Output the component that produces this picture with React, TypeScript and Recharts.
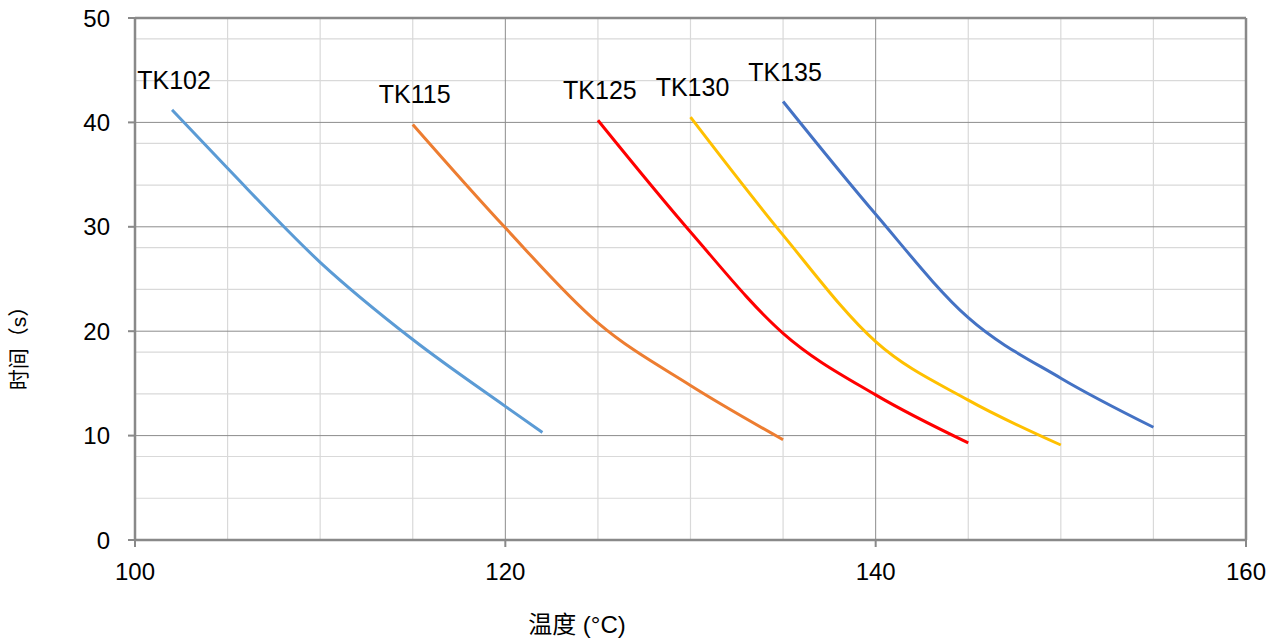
import { LineChart, Line, XAxis, YAxis, CartesianGrid, ReferenceLine, Label } from "recharts";

const tk102Temp = [102, 105, 110, 115, 120, 122];
const tk102Time = [41.2, 35.6, 26.6, 19.2, 12.8, 10.3];
const tk115Temp = [115, 120, 125, 130, 135];
const tk115Time = [39.8, 29.9, 20.8, 14.8, 9.6];
const tk125Temp = [125, 130, 135, 140, 145];
const tk125Time = [40.2, 29.5, 19.8, 13.9, 9.3];
const tk130Temp = [130, 135, 140, 145, 150];
const tk130Time = [40.5, 29.2, 19.0, 13.4, 9.1];
const tk135Temp = [135, 140, 145, 150, 155];
const tk135Time = [42.0, 31.2, 21.3, 15.5, 10.8];

const xTicks = [100, 120, 140, 160];
const yTicks = [0, 10, 20, 30, 40, 50];
const xMinor = [105, 110, 115, 125, 130, 135, 145, 150, 155];
const yMinor = [2, 4, 6, 8, 12, 14, 16, 18, 22, 24, 26, 28, 32, 34, 36, 38, 42, 44, 46, 48];
const xMajor = [120, 140];
const yMajor = [10, 20, 30, 40];

const FONT = "'Liberation Sans', Arial, 'Noto Sans CJK SC', sans-serif";
const AXIS = "#898989";

const build = (temps: number[], times: number[]) => temps.map((t, i) => ({ t, v: times[i] }));

const series = [
  { name: "TK102", color: "#5B9BD5", data: build(tk102Temp, tk102Time) },
  { name: "TK115", color: "#ED7D31", data: build(tk115Temp, tk115Time) },
  { name: "TK125", color: "#FF0000", data: build(tk125Temp, tk125Time) },
  { name: "TK130", color: "#FFC000", data: build(tk130Temp, tk130Time) },
  { name: "TK135", color: "#4472C4", data: build(tk135Temp, tk135Time) },
];

// name tag above the first point of each curve
const seriesLabel = (name: string) => (props: any) => {
  if (props.index !== 0) return <g />;
  return (
    <text x={props.x + 2} y={props.y - 21} textAnchor="middle" fontSize={25} fill="#000" fontFamily={FONT}>
      {name}
    </text>
  );
};

export default function App() {
  return (
    <div style={{ width: 1282, height: 644, background: "#fff" }}>
      <style>{"body{margin:0}"}</style>
      <LineChart width={1282} height={644} margin={{ top: 18, right: 36, bottom: 0, left: 0 }}>
        <CartesianGrid stroke="#d9d9d9" strokeWidth={1.2} verticalValues={xMinor} horizontalValues={yMinor} />
        <CartesianGrid stroke="#8c8c8c" strokeWidth={1} verticalValues={xMajor} horizontalValues={yMajor} />
        <XAxis
          type="number"
          dataKey="t"
          domain={[100, 160]}
          ticks={xTicks}
          allowDuplicatedCategory={false}
          height={104}
          axisLine={{ stroke: AXIS, strokeWidth: 2.5 }}
          tickLine={{ stroke: AXIS, strokeWidth: 2 }}
          tickSize={7}
          tickMargin={16}
          tick={{ fontSize: 24, fill: "#000", fontFamily: FONT }}
        >
          <Label
            content={() => (
              <text x={577} y={633} textAnchor="middle" fontSize={24} fill="#000" fontFamily={FONT}>
                温度 (°C)
              </text>
            )}
          />
        </XAxis>
        <YAxis
          type="number"
          domain={[0, 50]}
          ticks={yTicks}
          width={135}
          axisLine={{ stroke: AXIS, strokeWidth: 2.5 }}
          tickLine={{ stroke: AXIS, strokeWidth: 2 }}
          tickSize={7}
          tickMargin={18}
          tick={{ fontSize: 24, fill: "#000", fontFamily: FONT }}
        >
          <Label
            content={() => (
              <text
                x={26}
                y={343}
                transform="rotate(-90 26 343)"
                textAnchor="middle"
                fontSize={21}
                fill="#000"
                fontFamily={FONT}
              >
                时间（s）
              </text>
            )}
          />
        </YAxis>
        <ReferenceLine y={50} stroke={AXIS} strokeWidth={2.5} />
        <ReferenceLine x={160} stroke={AXIS} strokeWidth={2.5} />
        {series.map((s) => (
          <Line
            key={s.name}
            data={s.data}
            dataKey="v"
            type="monotone"
            stroke={s.color}
            strokeWidth={3}
            dot={false}
            activeDot={false}
            label={seriesLabel(s.name)}
            isAnimationActive={false}
          />
        ))}
      </LineChart>
    </div>
  );
}
